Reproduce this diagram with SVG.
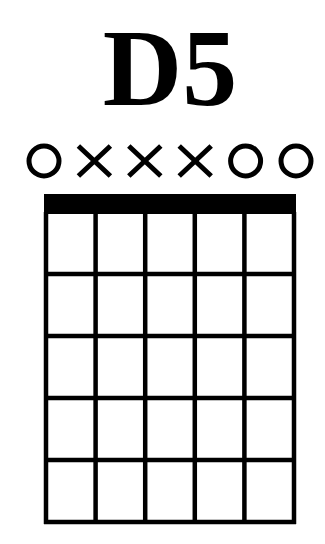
<svg xmlns="http://www.w3.org/2000/svg" width="325" height="544" viewBox="0 0 325 544">
<style>
.title{font-family:"Liberation Serif","Times New Roman",serif;font-weight:bold;font-size:110px;fill:#000}
.grid line{stroke:#000;stroke-width:4.5}
.mark{fill:none;stroke:#000;stroke-width:5}
</style>
<rect width="325" height="544" fill="#fff"/>
<g id="title"><text class="title" x="170" y="105" text-anchor="middle">D5</text></g>
<g id="markers">
<circle class="mark" cx="44" cy="161" r="15"/>
<path class="mark" d="M78.4 146L110.4 176M110.4 146L78.4 176"/>
<path class="mark" d="M128.8 146L160.8 176M160.8 146L128.8 176"/>
<path class="mark" d="M179.2 146L211.2 176M211.2 146L179.2 176"/>
<circle class="mark" cx="245.6" cy="161" r="15"/>
<circle class="mark" cx="296" cy="161" r="15"/>
</g>
<g id="nut"><rect x="44" y="194" width="252" height="20" fill="#000"/></g>
<g id="grid" class="grid">
<line x1="46" y1="212" x2="46" y2="524"/>
<line x1="95.6" y1="212" x2="95.6" y2="524"/>
<line x1="145.2" y1="212" x2="145.2" y2="524"/>
<line x1="194.8" y1="212" x2="194.8" y2="524"/>
<line x1="244.4" y1="212" x2="244.4" y2="524"/>
<line x1="294" y1="212" x2="294" y2="524"/>
<line x1="44" y1="274" x2="296" y2="274"/>
<line x1="44" y1="336" x2="296" y2="336"/>
<line x1="44" y1="398" x2="296" y2="398"/>
<line x1="44" y1="460" x2="296" y2="460"/>
<line x1="44" y1="522" x2="296" y2="522"/>
</g>
</svg>
